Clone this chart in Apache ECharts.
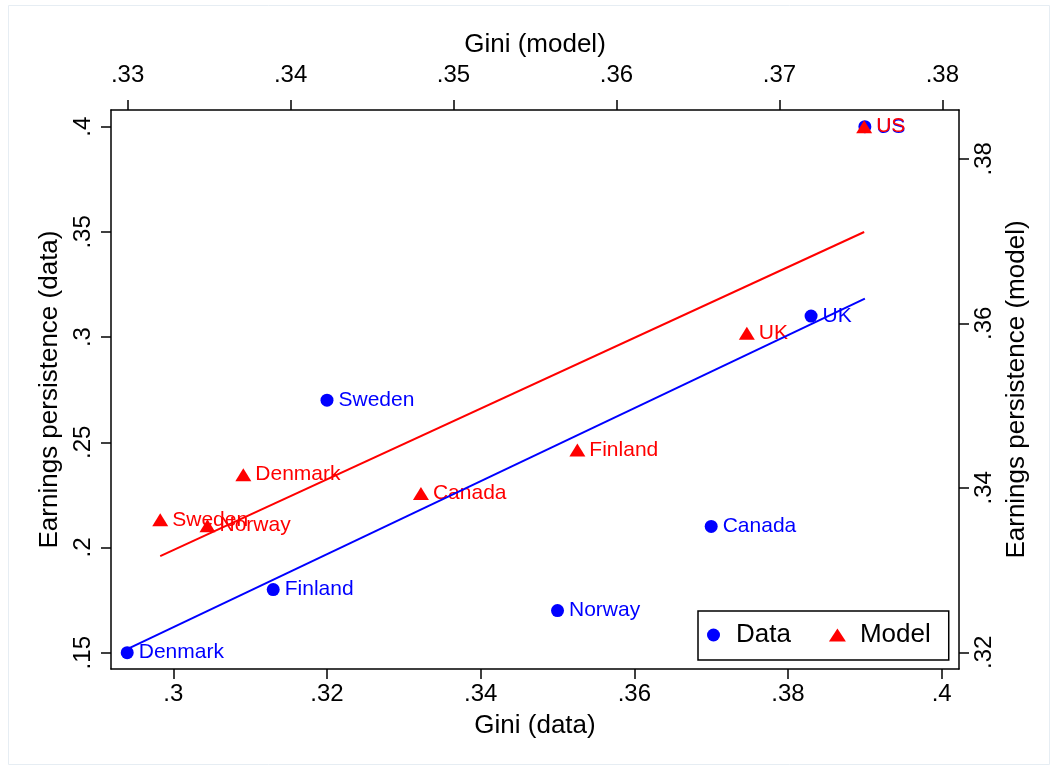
<!DOCTYPE html>
<html><head><meta charset="utf-8">
<script src="https://cdn.jsdelivr.net/npm/echarts@6/dist/echarts.min.js"></script>
<style>html,body{margin:0;padding:0;background:#fff}#c{width:1058px;height:771px}</style>
</head><body><div id="c"></div>
<script>
// ---- data ----
const countries    = ['Denmark','Finland','Sweden','Norway','Canada','UK','US'];
const giniData     = [0.294, 0.313, 0.320, 0.350, 0.370, 0.383, 0.390];
const persistData  = [0.150, 0.180, 0.270, 0.170, 0.210, 0.310, 0.400];
const giniModel    = [0.3371, 0.3576, 0.3320, 0.3349, 0.3480, 0.3680, 0.3752];
const persistModel = [0.3416, 0.3446, 0.3361, 0.3354, 0.3393, 0.3588, 0.3839];
const fitDataX  = [0.294, 0.390];
const fitDataY  = [0.1517, 0.3183];
const fitModelX = [0.3320, 0.3752];
const fitModelY = [0.3317, 0.3711];
const bottomTicks = [0.30, 0.32, 0.34, 0.36, 0.38, 0.40];
const topTicks    = [0.33, 0.34, 0.35, 0.36, 0.37, 0.38];
const leftTicks   = [0.15, 0.20, 0.25, 0.30, 0.35, 0.40];
const rightTicks  = [0.32, 0.34, 0.36, 0.38];

const FONT = '"Liberation Sans", Arial, Helvetica, sans-serif';
const fmt = v => String(+(+v).toFixed(3)).replace(/^0\./, '.');
const BLUE = '#0000ff', RED = '#ff0000';

function axisCommon(ticks, margin, rotate) {
  return {
    axisLine: { show: true, onZero: false, lineStyle: { color: '#000', width: 1.5 } },
    axisTick: { show: true, customValues: ticks, length: 10, lineStyle: { color: '#000', width: 1.5 } },
    axisLabel: { customValues: ticks, formatter: fmt, fontSize: 24, color: '#000', fontFamily: FONT, margin: margin, rotate: rotate || 0 },
    splitLine: { show: false },
    nameTextStyle: { fontSize: 26, color: '#000', fontFamily: FONT },
    nameLocation: 'middle'
  };
}

const chart = echarts.init(document.getElementById('c'), null, { renderer: 'canvas' });
const option = {
  backgroundColor: '#fff',
  animation: false,
  textStyle: { fontFamily: FONT },
  graphic: [{
    type: 'rect', shape: { x: 8.5, y: 5.5, width: 1041, height: 759 },
    style: { fill: null, stroke: '#e6edf3', lineWidth: 1 }, silent: true, z: -10
  }],
  grid: { left: 111, right: 99, top: 110, bottom: 102, containLabel: false },
  xAxis: [
    Object.assign(axisCommon(bottomTicks, 13), { type: 'value', position: 'bottom', min: 0.29189, max: 0.40225, name: 'Gini (data)', nameGap: 44 }),
    Object.assign(axisCommon(topTicks, 23), { type: 'value', position: 'top', min: 0.32898, max: 0.38102, name: 'Gini (model)', nameGap: 50 })
  ],
  yAxis: [
    Object.assign(axisCommon(leftTicks, 16, 90), { type: 'value', position: 'left', min: 0.14225, max: 0.40794, name: 'Earnings persistence (data)', nameGap: 48, nameRotate: 90 }),
    Object.assign(axisCommon(rightTicks, 13, 90), { type: 'value', position: 'right', min: 0.31797, max: 0.38593, name: 'Earnings persistence (model)', nameGap: 42, nameRotate: 90 })
  ],
  legend: {
    left: 698, top: 611,
    padding: [11, 18, 12, 9],
    borderColor: '#000', borderWidth: 1.5,
    backgroundColor: '#fff',
    itemWidth: 17, itemHeight: 13, itemGap: 38,
    selectedMode: false,
    textStyle: { fontSize: 26, color: '#000', fontFamily: FONT, padding: [0, 0, 0, 9] },
    data: [{ name: 'Data', icon: 'circle' }, { name: 'Model', icon: 'triangle' }]
  },
  series: [
    {
      name: 'Data', type: 'scatter', xAxisIndex: 0, yAxisIndex: 0,
      symbol: 'circle', symbolSize: 13,
      itemStyle: { color: BLUE, opacity: 1 },
      label: { show: true, position: 'right', distance: 5, formatter: p => p.name, color: BLUE, fontSize: 21, fontFamily: FONT },
      data: countries.map((c, i) => ({ name: c, value: [giniData[i], persistData[i]] })),
      z: 2
    },
    {
      name: 'Model', type: 'scatter', xAxisIndex: 1, yAxisIndex: 1,
      symbol: 'triangle', symbolSize: [16, 13],
      itemStyle: { color: RED, opacity: 1 },
      label: { show: true, position: 'right', distance: 4, formatter: p => p.name, color: RED, fontSize: 21, fontFamily: FONT },
      data: countries.map((c, i) => ({ name: c, value: [giniModel[i], persistModel[i]] })),
      z: 3
    },
    {
      name: 'Data fit', type: 'line', xAxisIndex: 0, yAxisIndex: 0,
      showSymbol: false, symbol: 'none',
      lineStyle: { color: BLUE, width: 2 },
      data: fitDataX.map((x, i) => [x, fitDataY[i]]),
      z: 4
    },
    {
      name: 'Model fit', type: 'line', xAxisIndex: 1, yAxisIndex: 1,
      showSymbol: false, symbol: 'none',
      lineStyle: { color: RED, width: 2 },
      data: fitModelX.map((x, i) => [x, fitModelY[i]]),
      z: 4
    }
  ]
};
chart.setOption(option);
</script>
</body></html>
